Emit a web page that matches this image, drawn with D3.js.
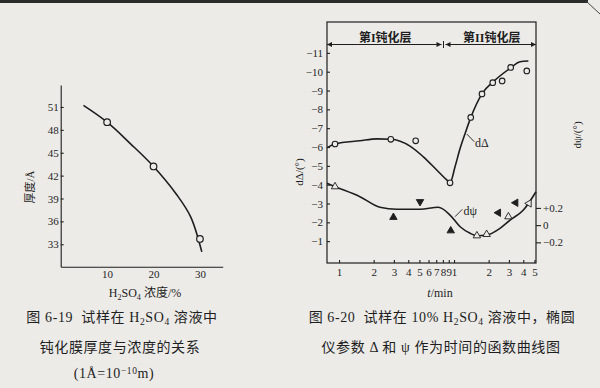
<!doctype html>
<html>
<head>
<meta charset="utf-8">
<title>图6-19 / 图6-20</title>
<script src="https://d3js.org/d3.v7.min.js"></script>
<style type="text/css">
	body { margin: 0; background: #ecebe8; }
	svg text { font-family: "Liberation Serif", "Noto Sans CJK SC", serif; fill: #1e1e1e; }
	.axis path, .axis line { stroke: #1e1e1e; stroke-width: 1.1; }
	.axis text { font-size: 11px; font-family: "Liberation Serif", serif; }
	.cap { font-size: 14px; letter-spacing: 0.6px; white-space: pre; }
	.curve { fill: none; stroke: #1e1e1e; stroke-width: 1.6; }
	.head { font-size: 12px; font-weight: bold; }
</style>
</head>
<body>
<script>
	// fig 6-19: film thickness vs H2SO4 concentration
	var concentration = [10, 20, 30];
	var thickness = [49.0, 43.2, 33.7];
	var thickCurveX = [4.9, 10, 15, 20, 25, 28, 30.4];
	var thickCurveY = [51.2, 49.0, 46.2, 43.2, 39.5, 36.6, 32.0];
	var concTicks = [10, 20, 30];
	var thickTicks = [33, 36, 39, 42, 45, 48, 51];

	// fig 6-20: ellipsometer delta / psi vs time (log)
	var timeTicks = [1, 2, 3, 4, 5, 6, 7, 8, 9, 10, 20, 30, 40, 50];
	var timeLabels = ["1", "2", "3", "4", "5", "6", "7", "8", "9", "1", "2", "3", "4", "5"];
	var deltaTicks = [-1, -2, -3, -4, -5, -6, -7, -8, -9, -10, -11];
	var psiTicks = [0.2, 0, -0.2];
	var psiLabels = ["+0.2", "0", "\u22120.2"];

	var deltaT = [0.923, 2.82, 4.64, 9.23, 13.97, 17.5, 21.7, 26.2, 31.1, 42.9];
	var deltaV = [-6.16, -6.41, -6.33, -4.10, -7.57, -8.82, -9.42, -9.51, -10.23, -10.04];
	var deltaCurveT = [0.786, 0.923, 1.52, 2.13, 2.83, 4.14, 5.41, 7.07, 8.64, 9.23, 10.2, 11.3, 12.5, 13.97, 17.6, 21.97, 30.7, 37.5, 44.3];
	var deltaCurveV = [-5.96, -6.16, -6.33, -6.43, -6.41, -6.05, -5.48, -4.78, -4.25, -4.10, -4.95, -5.93, -6.73, -7.56, -8.85, -9.47, -10.18, -10.53, -10.57];

	var psiT = [0.923, 2.97, 5.06, 9.36, 15.8, 19.2, 24.3, 29.7, 34.4, 44.9];
	var psiV = [0.447, 0.091, 0.272, -0.065, -0.123, -0.107, 0.144, 0.098, 0.26, 0.253];
	var psiKind = ["open-up", "up", "down", "up", "open-up", "open-up", "left", "open-up", "left", "open-left"];
	var psiCurveT = [0.786, 0.923, 1.52, 2.27, 3.18, 5.06, 7.30, 9.23, 11.3, 13.8, 15.8, 19.2, 25.1, 30.7, 40.1, 51.6];
	var psiCurveV = [0.486, 0.447, 0.33, 0.207, 0.184, 0.184, 0.207, 0.117, -0.019, -0.095, -0.123, -0.115, -0.037, 0.059, 0.176, 0.388];

	var phaseBoundary = 8.1;

	var w = 600;
	var h = 388;
	var ink = "#1e1e1e";
	var paper = "#ecebe8";

	var svg = d3.select("body")
				.append("svg")
				.attr("width", w)
				.attr("height", h);

	svg.append("rect").attr("width", w).attr("height", h).attr("fill", paper);
	// dark edge of the scanned page
	svg.append("rect").attr("width", 588).attr("height", 3).attr("fill", "#2b2b2b");
	svg.append("path").attr("d", "M586,1L600,14").attr("stroke", "#444").attr("fill", "none");

	// writes text with _sub / ^sup pieces
	function rich(sel, parts) {
		var shift = 0;
		parts.forEach(function(p) {
			var t = sel.append("tspan").text(p[0]);
			var want = p[1] == "sub" ? 3 : (p[1] == "sup" ? -4 : 0);
			if (want != shift) { t.attr("dy", want - shift); shift = want; }
			if (p[1]) t.style("font-size", "0.68em");
		});
	}

	/* ---------- left chart ---------- */
	var xL = d3.scaleLinear().domain([0, 34.9]).range([60.7, 222.7]);
	var yL = d3.scaleLinear().domain([30.06, 53.88]).range([266.7, 85]);

	svg.append("g")
		.attr("class", "axis")
		.attr("transform", "translate(60.7,0)")
		.call(d3.axisLeft(yL).tickValues(thickTicks).tickSizeInner(-3).tickSizeOuter(0).tickPadding(2));

	svg.append("g")
		.attr("class", "axis")
		.attr("transform", "translate(0,266.7)")
		.call(d3.axisBottom(xL).tickValues(concTicks).tickSize(0).tickPadding(4));

	var lineL = d3.line()
				.x(function(d) { return xL(d[0]); })
				.y(function(d) { return yL(d[1]); })
				.curve(d3.curveCatmullRom.alpha(0.5));

	svg.append("path")
		.attr("class", "curve")
		.attr("d", lineL(d3.zip(thickCurveX, thickCurveY)));

	svg.selectAll("circle.thick")
		.data(d3.zip(concentration, thickness))
		.enter()
		.append("circle")
		.attr("class", "thick")
		.attr("cx", function(d) { return xL(d[0]); })
		.attr("cy", function(d) { return yL(d[1]); })
		.attr("r", 3.3)
		.attr("fill", paper)
		.attr("stroke", ink)
		.attr("stroke-width", 1.2);

	svg.append("text")
		.attr("transform", "translate(34,187) rotate(-90)")
		.attr("text-anchor", "middle")
		.style("font-size", "11px")
		.text("厚度/Å");

	rich(svg.append("text")
			.attr("x", 145).attr("y", 297)
			.attr("text-anchor", "middle")
			.style("font-size", "12px"),
		[["H"], ["2", "sub"], ["SO"], ["4", "sub"], [" 浓度/%"]]);

	/* ---------- right chart ---------- */
	var xR = d3.scaleLog().domain([0.786, 51.6]).range([327, 536]);
	var yD = d3.scaleLinear().domain([0.16, -12.64]).range([263, 22]);
	var yP = d3.scaleLinear().domain([-0.44, 2.36]).range([263, 22]);

	svg.append("rect")
		.attr("x", 327).attr("y", 22)
		.attr("width", 209).attr("height", 241)
		.attr("fill", "none")
		.attr("stroke", ink)
		.attr("stroke-width", 1.2);

	var axB = svg.append("g")
		.attr("class", "axis")
		.attr("transform", "translate(0,263)")
		.call(d3.axisBottom(xR).tickValues(timeTicks)
			.tickFormat(function(d, i) { return timeLabels[i]; })
			.tickSizeInner(-3).tickSizeOuter(0).tickPadding(5));
	axB.select(".domain").remove();

	var axD = svg.append("g")
		.attr("class", "axis")
		.attr("transform", "translate(327,0)")
		.call(d3.axisLeft(yD).tickValues(deltaTicks)
			.tickFormat(function(d) { return "\u2212" + Math.abs(d); })
			.tickSizeInner(-3).tickSizeOuter(0).tickPadding(4));
	axD.select(".domain").remove();

	var axP = svg.append("g")
		.attr("class", "axis")
		.attr("transform", "translate(536,0)")
		.call(d3.axisRight(yP).tickValues(psiTicks)
			.tickFormat(function(d, i) { return psiLabels[i]; })
			.tickSizeInner(5).tickSizeOuter(0).tickPadding(2));
	axP.select(".domain").remove();

	// stage header with arrows
	var defs = svg.append("defs");
	defs.append("marker")
		.attr("id", "arr")
		.attr("viewBox", "0 0 10 10")
		.attr("refX", 10).attr("refY", 5)
		.attr("markerWidth", 7).attr("markerHeight", 5)
		.attr("markerUnits", "userSpaceOnUse")
		.attr("orient", "auto-start-reverse")
		.append("path")
		.attr("d", "M0,0L10,5L0,10z")
		.attr("fill", ink);

	var xb = xR(phaseBoundary);
	var headY = 44.5;
	[[327, xb - 2], [xb + 2, 536]].forEach(function(s) {
		svg.append("line")
			.attr("x1", s[0]).attr("x2", s[1])
			.attr("y1", headY).attr("y2", headY)
			.attr("stroke", ink).attr("stroke-width", 1)
			.attr("marker-start", "url(#arr)")
			.attr("marker-end", "url(#arr)");
	});
	svg.append("line")
		.attr("x1", xb).attr("x2", xb)
		.attr("y1", headY - 3.5).attr("y2", headY + 3.5)
		.attr("stroke", ink).attr("stroke-width", 1);

	svg.append("text").attr("class", "head")
		.attr("x", (327 + xb) / 2).attr("y", 41.5)
		.attr("text-anchor", "middle")
		.text("第I钝化层");
	svg.append("text").attr("class", "head")
		.attr("x", (xb + 536) / 2 + 2).attr("y", 41.5)
		.attr("text-anchor", "middle")
		.text("第II钝化层");

	var lineD = d3.line()
				.x(function(d) { return xR(d[0]); })
				.y(function(d) { return yD(d[1]); })
				.curve(d3.curveMonotoneX);
	var lineP = d3.line()
				.x(function(d) { return xR(d[0]); })
				.y(function(d) { return yP(d[1]); })
				.curve(d3.curveMonotoneX);

	svg.append("path").attr("class", "curve").attr("d", lineD(d3.zip(deltaCurveT, deltaCurveV)));
	svg.append("path").attr("class", "curve").attr("d", lineP(d3.zip(psiCurveT, psiCurveV)));

	svg.selectAll("circle.delta")
		.data(d3.zip(deltaT, deltaV))
		.enter()
		.append("circle")
		.attr("class", "delta")
		.attr("cx", function(d) { return xR(d[0]); })
		.attr("cy", function(d) { return yD(d[1]); })
		.attr("r", 2.8)
		.attr("fill", paper)
		.attr("stroke", ink)
		.attr("stroke-width", 1.1);

	var rot = { "up": 0, "open-up": 0, "down": 180, "left": -90, "open-left": -90 };
	var tri = d3.symbol().type(d3.symbolTriangle).size(24);
	svg.selectAll("path.psi")
		.data(d3.zip(psiT, psiV, psiKind))
		.enter()
		.append("path")
		.attr("class", "psi")
		.attr("d", tri)
		.attr("transform", function(d) {
			return "translate(" + xR(d[0]) + "," + yP(d[1]) + ") rotate(" + rot[d[2]] + ")";
		})
		.attr("fill", function(d) { return d[2].indexOf("open") == 0 ? paper : ink; })
		.attr("stroke", ink)
		.attr("stroke-width", 0.9);

	// curve labels with leaders
	svg.append("line")
		.attr("x1", xR(12.9)).attr("y1", yD(-6.69))
		.attr("x2", xR(15.0)).attr("y2", yD(-6.28))
		.attr("stroke", ink).attr("stroke-width", 0.9);
	svg.append("text")
		.attr("x", xR(15.2)).attr("y", yD(-6.0))
		.style("font-size", "12px")
		.text("dΔ");

	svg.append("line")
		.attr("x1", xR(10.2)).attr("y1", yP(0.098))
		.attr("x2", xR(11.8)).attr("y2", yP(0.184))
		.attr("stroke", ink).attr("stroke-width", 0.9);
	svg.append("text")
		.attr("x", xR(12.1)).attr("y", yP(0.117))
		.style("font-size", "12px")
		.text("dψ");

	svg.append("text")
		.attr("transform", "translate(303,172) rotate(-90)")
		.attr("text-anchor", "middle")
		.style("font-size", "11px")
		.text("dΔ/(°)");
	svg.append("text")
		.attr("transform", "translate(581,135) rotate(-90)")
		.attr("text-anchor", "middle")
		.style("font-size", "11px")
		.text("dψ/(°)");

	var tl = svg.append("text")
		.attr("x", 440).attr("y", 297)
		.attr("text-anchor", "middle")
		.style("font-size", "12px");
	tl.append("tspan").style("font-style", "italic").text("t");
	tl.append("tspan").text("/min");

	/* ---------- captions ---------- */
	rich(svg.append("text").attr("class", "cap").attr("x", 122).attr("y", 322).attr("text-anchor", "middle"),
		[["图 6-19  试样在 H"], ["2", "sub"], ["SO"], ["4", "sub"], [" 溶液中"]]);
	svg.append("text").attr("class", "cap").attr("x", 120).attr("y", 352).attr("text-anchor", "middle")
		.text("钝化膜厚度与浓度的关系");
	rich(svg.append("text").attr("class", "cap").attr("x", 114).attr("y", 378).attr("text-anchor", "middle"),
		[["(1Å=10"], ["\u221210", "sup"], ["m)"]]);

	rich(svg.append("text").attr("class", "cap").attr("x", 442).attr("y", 322).attr("text-anchor", "middle"),
		[["图 6-20  试样在 10% H"], ["2", "sub"], ["SO"], ["4", "sub"], [" 溶液中，椭圆"]]);
	svg.append("text").attr("class", "cap").attr("x", 441).attr("y", 352).attr("text-anchor", "middle")
		.text("仪参数 Δ 和 ψ 作为时间的函数曲线图");
</script>
</body>
</html>
